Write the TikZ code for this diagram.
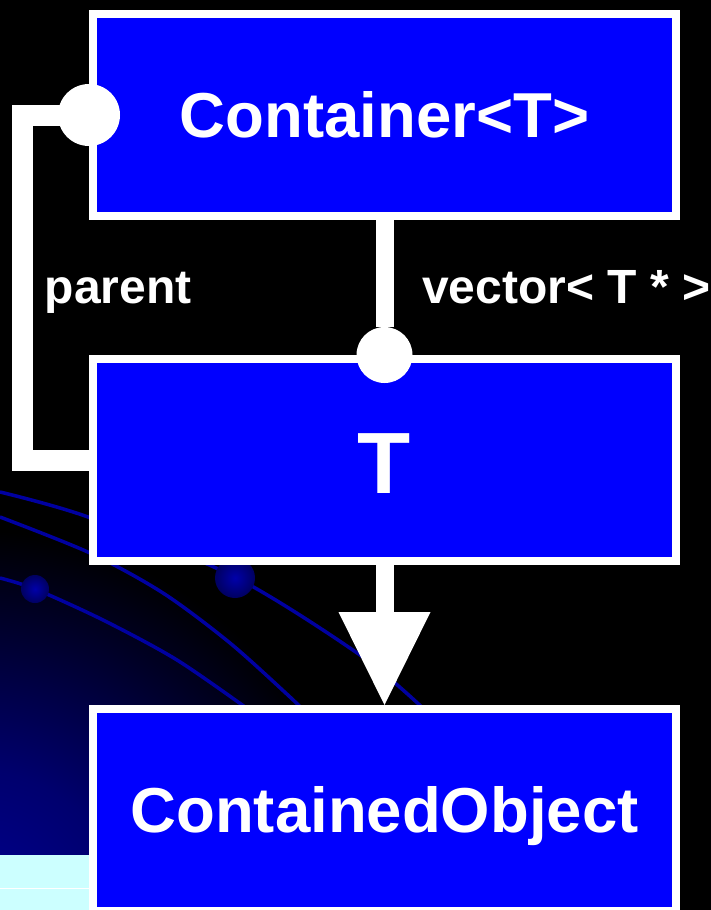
\documentclass[tikz,border=0pt]{standalone}
\usepackage{fontspec}
\setmainfont{Liberation Sans}
\usetikzlibrary{arrows.meta, positioning, calc}

\definecolor{boxblue}{RGB}{0,0,255}
\definecolor{glowA}{RGB}{0,0,150}
\definecolor{glowB}{RGB}{0,0,110}
\definecolor{swirlblue}{RGB}{0,0,160}
\definecolor{dotblue}{RGB}{0,0,170}
\definecolor{paleCyan}{RGB}{204,255,255}
\pgfdeclareradialshading{glowshade}{\pgfpoint{0bp}{0bp}}{%
  color(0bp)=(glowA); color(10bp)=(glowB); color(25bp)=(black); color(50bp)=(black)}

\begin{document}
\begin{tikzpicture}[x=1pt, y=-1pt,
  cls/.style={draw=white, line width=8pt, fill=boxblue, text=white, inner sep=0pt,
    minimum width=583pt, minimum height=202pt, text height=45.5pt, text depth=0pt,
    font=\fontsize{63.5}{70}\selectfont\bfseries},
  link/.style={draw=white, line width=18pt},
  hole/.style={circle, fill=white, inner sep=0pt},
  lbl/.style={text=white, inner sep=0pt, font=\fontsize{48}{54}\selectfont\bfseries},
  swirl/.style={draw=swirlblue, line width=3.5pt}]
  \useasboundingbox (0,0) rectangle (711,910);

  % slide background
  \fill[black] (0,0) rectangle (711,910);
  \begin{scope}
    \clip (0,0) rectangle (711,910);
    \shade[shading=glowshade] (-30,930) circle (400pt);
  \end{scope}
  \fill[paleCyan] (0,855) rectangle (89,910);
  \draw[white, line width=1pt] (0,888) -- (89,888);
  \draw[swirl] plot[smooth] coordinates {(0,492) (88,517) (235,577) (360,655) (425,710)};
  \draw[swirl] plot[smooth] coordinates {(0,517) (90,553) (163,593) (230,643) (290,697) (305,712)};
  \draw[swirl] plot[smooth] coordinates {(0,578) (35,589) (103,620) (177,660) (252,712)};
  \shade[inner color=dotblue, outer color=swirlblue!60!black] (235,578) circle (20pt);
  \shade[inner color=dotblue, outer color=swirlblue!60!black] (35,589) circle (14pt);

  % classes
  \node[cls] (cont) at (384.5,115) {Container<T>};
  \node[cls, text height=66pt, font=\fontsize{87}{90}\selectfont\bfseries] (elem) at (384.5,460) {T};
  \node[cls] (obj) at (384.5,810) {ContainedObject};

  % vector< T * >
  \node[hole, minimum size=56pt] (vdot) at (elem.north) {};
  \draw[link] (cont.south) -- (vdot);
  \node[lbl, anchor=base west] (veclbl) at (422,303) {vector< T * >};

  % parent
  \node[hole, minimum size=62pt] (pdot) at (cont.west) {};
  \draw[link, line width=21pt] (pdot.center) -- ++(-66.5,0) |- (elem.west);
  \node[lbl, anchor=base west] (parentlbl) at (44.5,303) {parent};

  % inheritance
  \draw[link, -{Triangle[length=93pt, width=92pt, line width=0pt]}] (elem.south) -- (obj.north);
\end{tikzpicture}
\end{document}
